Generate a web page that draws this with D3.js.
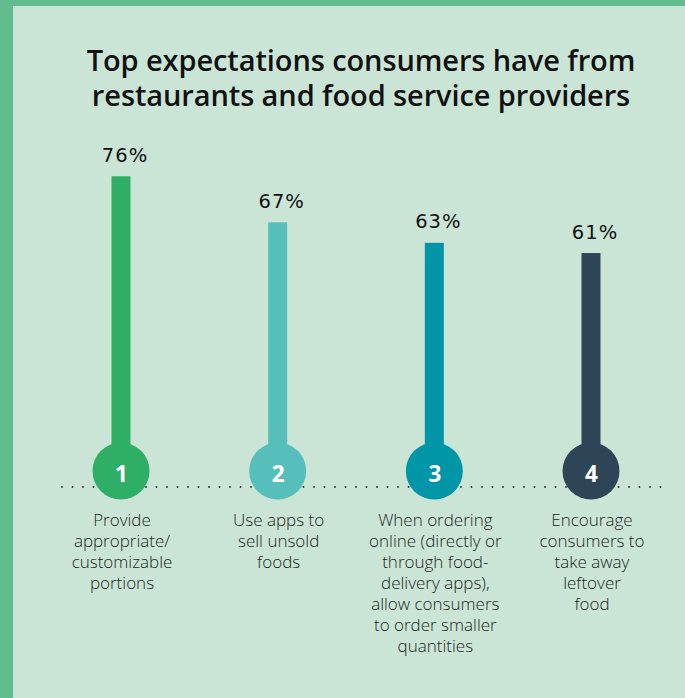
<!DOCTYPE html>
<html>
<head>
<meta charset="utf-8">
<script src="https://cdn.jsdelivr.net/npm/d3@7"></script>
<style>
  html, body { margin: 0; padding: 0; background: #62bc8d; }
  svg { display: block; }
</style>
</head>
<body>
<svg id="chart" width="685" height="698"></svg>
<script>
// Chart data
const categories = ["1", "2", "3", "4"];
const values = [76, 67, 63, 61];
const valueLabels = ["76%", "67%", "63%", "61%"];
const descriptions = [
  ["Provide", "appropriate/", "customizable", "portions"],
  ["Use apps to", "sell unsold", "foods"],
  ["When ordering", "online (directly or", "through food-", "delivery apps),", "allow consumers", "to order smaller", "quantities"],
  ["Encourage", "consumers to", "take away", "leftover", "food"]
];
const colors = ["#2fae66", "#56bfbb", "#0096a7", "#2d4556"];
const titleLines = ["Top expectations consumers have from", "restaurants and food service providers"];

const W = 685, H = 698;
const svg = d3.select("#chart");

// Panel with border strips on top and left
svg.append("rect").attr("x", 0).attr("y", 0).attr("width", W).attr("height", H).attr("fill", "#62bc8d");
svg.append("rect").attr("x", 13).attr("y", 6).attr("width", W - 13).attr("height", H - 6).attr("fill", "#cae5d5");

// Title
svg.append("text")
  .attr("text-anchor", "middle")
  .attr("font-family", "'Open Sans', sans-serif")
  .attr("font-weight", 600)
  .attr("font-size", 29)
  .attr("letter-spacing", -0.1)
  .attr("fill", "#111")
  .selectAll("tspan")
  .data(titleLines)
  .join("tspan")
  .attr("x", 361)
  .attr("y", (d, i) => 71 + i * 34.5)
  .text(d => d);

// Scales
const x = d3.scalePoint().domain(categories).range([121, 591]);
const y = d3.scaleLinear().domain([0, 100]).range([565.4, 53.4]);

const baseY = 471;   // centre of the numbered circles
const barW = 19;
const r = 28.5;

// Dotted baseline
svg.append("line")
  .attr("x1", 62).attr("x2", 663)
  .attr("y1", 487).attr("y2", 487)
  .attr("stroke", "#2a2a2a")
  .attr("stroke-width", 1.8)
  .attr("stroke-linecap", "round")
  .attr("stroke-dasharray", "0 10.5");

const g = svg.append("g");
const items = categories.map((c, i) => ({ c, v: values[i], label: valueLabels[i], desc: descriptions[i], color: colors[i] }));

// Stems
g.selectAll("rect.bar")
  .data(items)
  .join("rect")
  .attr("class", "bar")
  .attr("x", d => x(d.c) - barW / 2)
  .attr("y", d => y(d.v))
  .attr("width", barW)
  .attr("height", d => baseY - y(d.v))
  .attr("fill", d => d.color);

// Numbered circles
g.selectAll("circle.node")
  .data(items)
  .join("circle")
  .attr("class", "node")
  .attr("cx", d => x(d.c))
  .attr("cy", baseY)
  .attr("r", r)
  .attr("fill", d => d.color);

g.selectAll("text.num")
  .data(items)
  .join("text")
  .attr("class", "num")
  .attr("x", d => x(d.c) + 0.5)
  .attr("y", baseY + 11)
  .attr("text-anchor", "middle")
  .attr("font-family", "'Open Sans', sans-serif")
  .attr("font-weight", 700)
  .attr("font-size", 22.5)
  .attr("fill", "#ffffff")
  .text(d => d.c);

// Value labels
g.selectAll("text.val")
  .data(items)
  .join("text")
  .attr("class", "val")
  .attr("x", d => x(d.c) + 4)
  .attr("y", d => y(d.v) - 14.5)
  .attr("text-anchor", "middle")
  .attr("font-family", "'DejaVu Sans', Verdana, sans-serif")
  .attr("font-size", 19.5)
  .attr("letter-spacing", 1)
  .attr("fill", "#111")
  .text(d => d.label);

// Descriptions
g.selectAll("text.desc")
  .data(items)
  .join("text")
  .attr("class", "desc")
  .attr("text-anchor", "middle")
  .attr("font-family", "'Open Sans', sans-serif")
  .attr("font-weight", 300)
  .attr("font-size", 17)
  .attr("fill", "#1e1e1e")
  .each(function(d) {
    d3.select(this).selectAll("tspan")
      .data(d.desc)
      .join("tspan")
      .attr("x", x(d.c) + 1)
      .attr("y", (t, i) => 526 + i * 21)
      .text(t => t);
  });
</script>
</body>
</html>
